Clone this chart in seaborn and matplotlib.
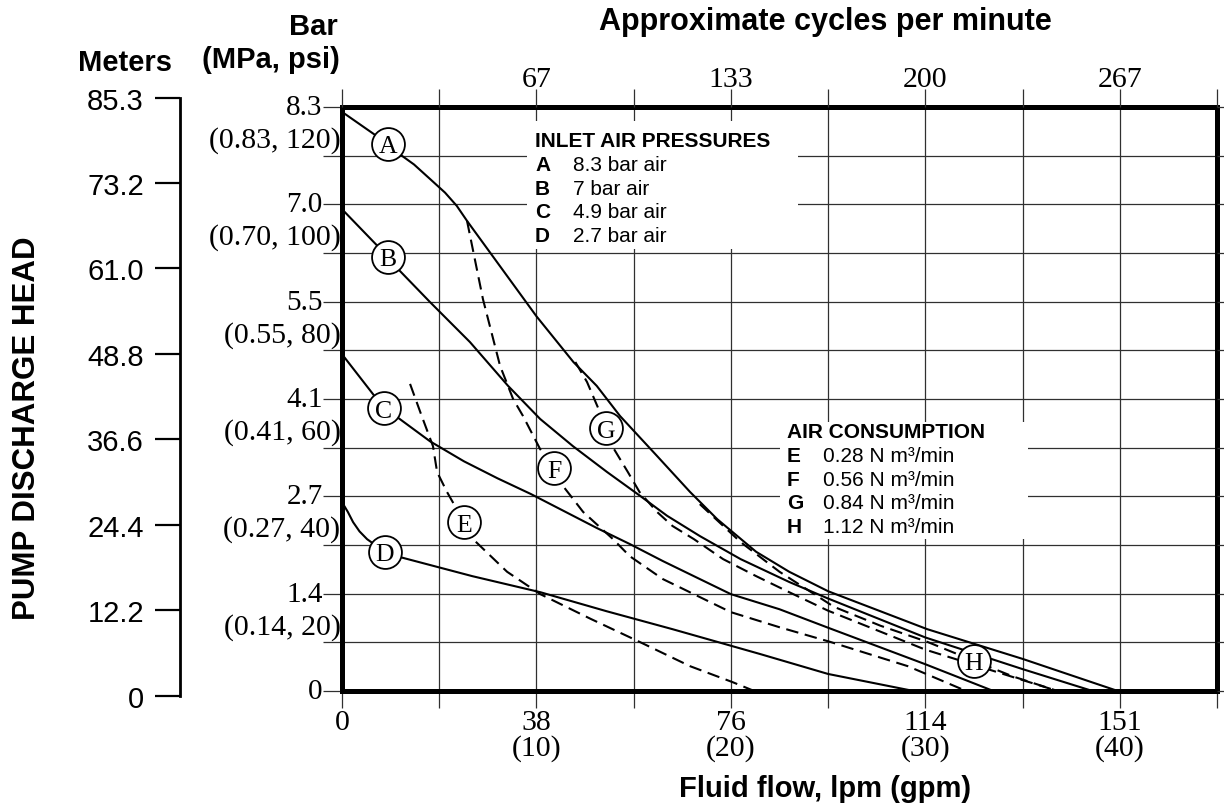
import numpy as np
import pandas as pd
import matplotlib
matplotlib.use('Agg')
import matplotlib.pyplot as plt
from matplotlib.patches import Rectangle
import seaborn as sns

# pressure curves, flow in gpm vs head in psi
a_gpm = [0, 2.37, 2.83, 3.7, 4.53, 5.3, 5.9, 6.43, 10.0, 11.9, 13.1, 14.3, 16.2, 17.9, 19.3, 21.3, 23.0, 25.0, 30.1, 35.0, 39.9]
a_psi = [119, 112.4, 110.7, 108.2, 105.2, 102.4, 99.7, 96.6, 77.0, 67.6, 62.7, 56.5, 48.3, 40.9, 35.3, 28.6, 24.5, 20.5, 12.7, 6.6, 0]
b_gpm = [0, 2.37, 2.98, 4.53, 6.58, 8.54, 10.19, 11.88, 13.63, 15.33, 16.72, 18.42, 20.5, 23.0, 25.0, 30.0, 35.0, 38.6]
b_psi = [99, 89.2, 86.3, 79.9, 71.7, 62.7, 55.9, 50.3, 45.0, 40.1, 36.0, 31.8, 27.1, 22.4, 19.0, 11.0, 4.5, 0]
c_gpm = [0, 2.16, 2.83, 4.53, 6.27, 8.0, 9.7, 11.4, 13.1, 14.8, 16.5, 18.3, 20.0, 22.5, 25.0, 30.0, 33.5]
c_psi = [69.2, 58.1, 56.3, 51.3, 47.2, 43.7, 40.5, 37.0, 33.5, 30.2, 26.7, 23.2, 19.9, 16.8, 13.0, 5.5, 0]
d_gpm = [0, 0.3, 0.57, 0.9, 1.29, 2.2, 3.0, 6.7, 10.2, 13.6, 17.0, 21.5, 25.0, 29.4]
d_psi = [38.8, 36.8, 34.7, 32.8, 31.2, 28.6, 27.5, 23.6, 20.3, 16.4, 12.7, 7.6, 3.5, 0]

# air consumption curves
e_gpm = [3.5, 4.1, 4.68, 4.89, 5.4, 6.28, 6.74, 8.49, 10.2, 12.8, 15.3, 17.9, 20.1, 21.2]
e_psi = [63.1, 56.5, 50.3, 45.0, 40.9, 34.7, 31.2, 24.5, 19.9, 14.8, 10.1, 5.1, 1.8, 0]
f_gpm = [6.43, 7.25, 8.13, 8.80, 9.31, 10.19, 10.9, 11.37, 12.4, 13.94, 14.8, 16.5, 18.3, 20.0, 22.5, 25.1, 29.1, 32.1]
f_psi = [96.6, 80.5, 66.8, 60.0, 56.5, 49.7, 45.8, 42.1, 36.8, 31.2, 27.7, 23.0, 19.5, 16.2, 13.1, 10.1, 5.1, 0]
g_gpm = [12.0, 12.6, 13.2, 13.6, 13.9, 14.7, 15.3, 16.2, 17.0, 18.1, 19.6, 21.3, 23.0, 25.0, 30.0, 36.8]
g_psi = [67.6, 63.5, 57.9, 54.0, 50.3, 45.0, 40.9, 36.8, 33.9, 31.2, 27.1, 23.6, 20.3, 16.5, 8.5, 0]
h_gpm = [18.4, 20.5, 22.5, 25.3, 27.7, 30.1, 32.5, 34.5, 36.8]
h_psi = [38.4, 30.6, 24.5, 17.3, 13.4, 10.1, 6.2, 3.0, 0]

# curve label positions
lab_names = ['A', 'B', 'C', 'D', 'E', 'F', 'G', 'H']
lab_gpm = [2.37, 2.37, 2.16, 2.21, 6.28, 10.9, 13.6, 32.5]
lab_psi = [112.4, 89.2, 58.1, 28.6, 34.7, 45.8, 54.0, 6.2]

# axes labels
psi_major = [0, 20, 40, 60, 80, 100, 120]
bar_labels = ['0', '1.4', '2.7', '4.1', '5.5', '7.0', '8.3']
mpa_labels = ['', '0.14', '0.27', '0.41', '0.55', '0.70', '0.83']
gpm_major = [0, 10, 20, 30, 40]
lpm_labels = ['0', '38', '76', '114', '151']
cpm_labels = ['67', '133', '200', '267']
meters = [0, 12.2, 24.4, 36.6, 48.8, 61.0, 73.2, 85.3]
meter_labels = ['0', '12.2', '24.4', '36.6', '48.8', '61.0', '73.2', '85.3']

inlet_keys = ['A', 'B', 'C', 'D']
inlet_vals = ['8.3 bar air', '7 bar air', '4.9 bar air', '2.7 bar air']
air_keys = ['E', 'F', 'G', 'H']
air_vals = ['0.28 N m³/min', '0.56 N m³/min', '0.84 N m³/min', '1.12 N m³/min']

curves = {'A': (a_gpm, a_psi, 'pressure'), 'B': (b_gpm, b_psi, 'pressure'),
          'C': (c_gpm, c_psi, 'pressure'), 'D': (d_gpm, d_psi, 'pressure'),
          'E': (e_gpm, e_psi, 'air'), 'F': (f_gpm, f_psi, 'air'),
          'G': (g_gpm, g_psi, 'air'), 'H': (h_gpm, h_psi, 'air')}
df = pd.concat([pd.DataFrame({'gpm': x, 'psi': y, 'curve': k, 'kind': kind})
                for k, (x, y, kind) in curves.items()], ignore_index=True)

sns.set_theme(style='white')
plt.rcParams['font.family'] = ['Liberation Sans', 'DejaVu Sans']
plt.rcParams.update({'text.color': 'black', 'axes.labelcolor': 'black',
                     'xtick.color': 'black', 'ytick.color': 'black'})
serif = 'Liberation Serif'
W, H = 1224, 804
gc = '#303030'

fig = plt.figure(figsize=(12.24, 8.04), dpi=100)
ax = fig.add_axes([342 / W, 112 / H, 875 / W, 584 / H])

sns.lineplot(data=df, x='gpm', y='psi', hue='curve', style='kind',
             palette={k: 'black' for k in curves}, dashes={'pressure': '', 'air': (6, 3.2)},
             estimator=None, sort=False, legend=False, lw=1.5, ax=ax, zorder=2)

ax.set_xlim(0, 45)
ax.set_ylim(0, 120)
ax.set_axisbelow(True)
ax.set_xticks(np.arange(0, 46, 5))
ax.set_yticks(np.arange(0, 121, 10))
ax.grid(True, color=gc, lw=0.9)
for s in ax.spines.values():
    s.set_linewidth(3.6)
    s.set_color('black')

xl = [''] * 10
for g, l in zip(gpm_major, lpm_labels):
    xl[g // 5] = l if g == 0 else f'{l}\n({g})'
ax.set_xticklabels(xl, fontfamily=serif, fontsize=21.5, linespacing=0.95)
yl = [''] * 13
for p, b in zip(psi_major, bar_labels):
    yl[p // 10] = b
ax.set_yticklabels(yl, fontfamily=serif, fontsize=21, va='center')
ax.tick_params(axis='x', bottom=True, length=12, width=0.9, color=gc, pad=1)
ax.tick_params(axis='y', left=True, length=14, width=0.9, color=gc, pad=0)
ax.set_xlabel('')
ax.set_ylabel('')

for p, m in zip(psi_major, mpa_labels):
    if m:
        ax.annotate(f'({m}, {p})', xy=(0, p), xycoords=('axes fraction', 'data'),
                    xytext=(-1, -23.5), textcoords='offset points', ha='right', va='center',
                    fontfamily=serif, fontsize=21.5, annotation_clip=False)

# top axis: cycles per minute
ax2 = ax.twiny()
ax2.set_xlim(0, 45)
ax2.set_xticks(np.arange(0, 46, 5))
tl = [''] * 10
for g, c in zip(gpm_major[1:], cpm_labels):
    tl[g // 5] = c
ax2.set_xticklabels(tl, fontfamily=serif, fontsize=21.5)
ax2.tick_params(axis='x', top=True, length=13, width=0.9, color=gc, pad=-2)
for s in ax2.spines.values():
    s.set_visible(False)
ax2.grid(False)

# short grid stubs on the right
ax3 = ax.twinx()
ax3.set_ylim(0, 120)
ax3.set_yticks(np.arange(0, 121, 10))
ax3.set_yticklabels([])
ax3.tick_params(axis='y', right=True, length=5, width=0.9, color=gc)
for s in ax3.spines.values():
    s.set_visible(False)
ax3.grid(False)

# circled curve labels
ax.scatter(lab_gpm, lab_psi, s=560, facecolor='white', edgecolor='black', lw=1.3, zorder=5)
for n, x, y in zip(lab_names, lab_gpm, lab_psi):
    ax.text(x, y, n, ha='center', va='center_baseline', fontfamily=serif, fontsize=18.5, zorder=6)

# key boxes
ax.add_patch(Rectangle((0.2114, 0.7568), 0.3097, 0.2192, transform=ax.transAxes,
                       facecolor='white', edgecolor='none', zorder=1))
ax.add_patch(Rectangle((0.5006, 0.2603), 0.2834, 0.2003, transform=ax.transAxes,
                       facecolor='white', edgecolor='none', zorder=1))
ax.text(0.2206, 0.9418, 'INLET AIR PRESSURES', transform=ax.transAxes, fontsize=15,
        weight='bold', va='center', zorder=3)
for i, (k, v) in enumerate(zip(inlet_keys, inlet_vals)):
    y = 0.9007 - i * 0.0400
    ax.text(0.2206, y, k, transform=ax.transAxes, fontsize=15, weight='bold', va='center', zorder=3)
    ax.text(0.264, y, v, transform=ax.transAxes, fontsize=15, va='center', zorder=3)
ax.text(0.5086, 0.4452, 'AIR CONSUMPTION', transform=ax.transAxes, fontsize=15,
        weight='bold', va='center', zorder=3)
for i, (k, v) in enumerate(zip(air_keys, air_vals)):
    y = 0.4024 - i * 0.0400
    ax.text(0.5086, y, k, transform=ax.transAxes, fontsize=15, weight='bold', va='center', zorder=3)
    ax.text(0.5497, y, v, transform=ax.transAxes, fontsize=15, va='center', zorder=3)

# meters scale
axm = fig.add_axes([180 / W, 107 / H, 0.0001, 598 / H])
axm.set_ylim(0, 85.3)
axm.set_yticks(meters)
axm.set_yticklabels(meter_labels, fontsize=21)
axm.set_xticks([])
axm.patch.set_visible(False)
for side in ['top', 'right', 'bottom']:
    axm.spines[side].set_visible(False)
axm.spines['left'].set_linewidth(2)
axm.spines['left'].set_color('black')
axm.tick_params(axis='y', left=True, length=18, width=1.6, color='black', pad=8)

fig.text(338 / W, 1 - 27 / H, 'Bar', ha='right', va='center', fontsize=21, weight='bold')
fig.text(340 / W, 1 - 60 / H, '(MPa, psi)', ha='right', va='center', fontsize=21, weight='bold')
fig.text(125 / W, 1 - 63 / H, 'Meters', ha='center', va='center', fontsize=21, weight='bold')
fig.text(825 / W, 1 - 22 / H, 'Approximate cycles per minute', ha='center', va='center',
         fontsize=22, weight='bold')
fig.text(825 / W, 1 - 789 / H, 'Fluid flow, lpm (gpm)', ha='center', va='center',
         fontsize=21, weight='bold')
fig.text(27 / W, 1 - 428 / H, 'PUMP DISCHARGE HEAD', rotation=90, ha='center', va='center',
         fontsize=22.5, weight='bold')

fig.savefig('out.png', dpi=100, facecolor='white')
